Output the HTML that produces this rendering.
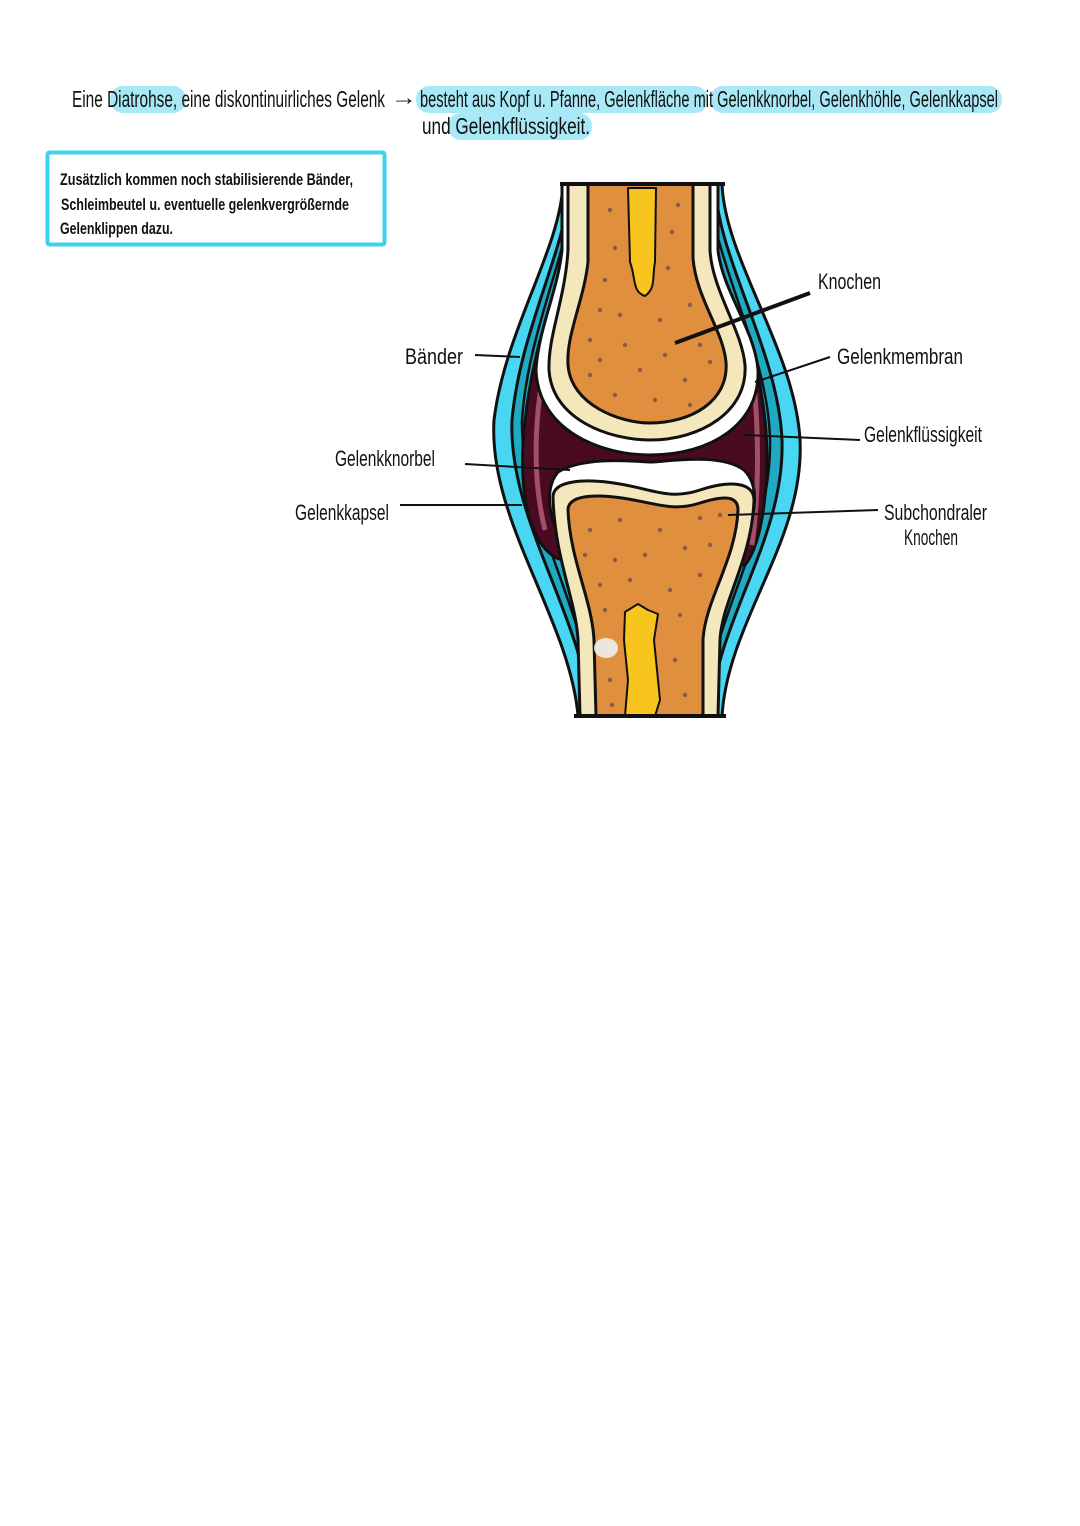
<!DOCTYPE html>
<html><head><meta charset="utf-8"><style>
html,body{margin:0;padding:0;background:#fff;}
svg{display:block}
text{font-family:"Liberation Sans Narrow","Liberation Sans",sans-serif;fill:#111}
</style></head><body>
<svg width="1080" height="1526" viewBox="0 0 1080 1526" xmlns="http://www.w3.org/2000/svg">
<g fill="#a9e9f7">
<rect x="110" y="86" width="76" height="27" rx="13"/>
<rect x="416" y="86" width="292" height="27" rx="13"/>
<rect x="710" y="86" width="292" height="27" rx="13"/>
<rect x="448" y="113" width="144" height="27" rx="13"/>
</g>
<g font-size="23">
<text x="72" y="107" textLength="313" lengthAdjust="spacingAndGlyphs">Eine Diatrohse, eine diskontinuirliches Gelenk</text>
<text x="391" y="105" textLength="26" lengthAdjust="spacingAndGlyphs">→</text>
<text x="420" y="107" textLength="578" lengthAdjust="spacingAndGlyphs">besteht aus Kopf u. Pfanne, Gelenkfläche mit Gelenkknorbel, Gelenkhöhle, Gelenkkapsel</text>
<text x="422" y="134" textLength="168" lengthAdjust="spacingAndGlyphs">und Gelenkflüssigkeit.</text>
</g>
<rect x="47.5" y="152.5" width="337" height="92" fill="none" stroke="#3fd2ee" stroke-width="4" rx="2"/>
<g font-size="17" font-weight="600">
<text x="60" y="185" textLength="293" lengthAdjust="spacingAndGlyphs">Zusätzlich kommen noch stabilisierende Bänder,</text>
<text x="61" y="210" textLength="288" lengthAdjust="spacingAndGlyphs">Schleimbeutel u. eventuelle gelenkvergrößernde</text>
<text x="60" y="234" textLength="113" lengthAdjust="spacingAndGlyphs">Gelenklippen dazu.</text>
</g>
<g stroke="#111" stroke-width="3" stroke-linejoin="round">
<path d="M563,184 C560,250 505,330 494,420 C488,520 570,620 578,716 L722,716 C728,620 805,540 800,440 C795,350 725,260 722,184 Z" fill="#48d6f2"/>
<path d="M570,184 C566,250 520,330 512,420 C508,520 585,620 590,716 L710,716 C716,620 785,540 782,440 C778,350 718,260 715,184 Z" fill="#1fa9c2"/>
<path d="M574,184 C570,250 528,330 522,420 C520,510 590,620 596,716 L704,716 C710,620 772,540 770,440 C768,350 712,260 709,184 Z" fill="none" stroke-width="2.5"/>
<path d="M540,340 C525,400 515,470 530,520 C540,550 555,560 565,560 L745,565 C765,540 770,470 765,420 C760,380 752,330 735,315 L560,320 Z" fill="#4a0a22"/>
<path d="M548,352 C536,400 530,470 545,530" fill="none" stroke="#a24f68" stroke-width="5"/>
<path d="M742,322 C758,370 762,470 752,545" fill="none" stroke="#a24f68" stroke-width="5"/>
<path d="M562,184 L562,250 C558,290 538,330 536,370 C538,430 600,455 650,455 C710,455 760,425 758,370 C755,330 722,290 718,250 L718,184 Z" fill="#fff"/>
<path d="M568,184 L568,250 C565,300 548,335 549,370 C552,420 610,440 650,440 C700,440 748,412 745,365 C742,330 712,290 710,250 L710,184 Z" fill="#f3e7bb"/>
<path d="M588,184 L588,262 C584,300 566,335 568,365 C571,405 620,423 650,423 C690,423 729,402 726,362 C723,330 696,298 693,258 L693,184 Z" fill="#e08f3e"/>
<path d="M628,188 L656,188 L655,262 C652,278 656,288 645,296 C632,292 636,278 630,262 Z" fill="#f8c51e" stroke-width="2"/>
<path d="M558,472 C585,455 640,462 650,462 C665,462 720,452 744,470 C762,488 754,520 742,545 L563,545 C550,520 543,490 558,472 Z" fill="#fff"/>
<path d="M553,498 C552,480 585,478 620,484 C655,490 670,500 700,490 C730,480 754,482 754,500 C752,560 722,600 720,640 L718,716 L580,716 L578,640 C576,600 555,560 553,498 Z" fill="#f3e7bb"/>
<path d="M568,510 C568,495 595,494 622,498 C656,503 672,512 700,503 C725,495 738,496 738,510 C736,560 705,600 703,640 L703,716 L596,716 L594,640 C592,600 570,560 568,510 Z" fill="#e08f3e"/>
<path d="M625,612 L638,604 L648,610 L658,614 L654,640 L660,700 L655,716 L625,716 L628,680 L624,640 Z" fill="#f8c51e" stroke-width="2"/>
<line x1="560" y1="184" x2="725" y2="184" stroke-width="4"/>
<line x1="574" y1="716" x2="726" y2="716" stroke-width="4"/>
</g>
<ellipse cx="606" cy="648" rx="12" ry="10" fill="#eee" opacity="0.9"/>
<g fill="#8a5a4a">
<circle cx="610" cy="210" r="2.2"/><circle cx="678" cy="205" r="2.2"/><circle cx="615" cy="248" r="2.2"/><circle cx="672" cy="232" r="2.2"/><circle cx="668" cy="268" r="2.2"/><circle cx="605" cy="280" r="2.2"/><circle cx="600" cy="310" r="2.2"/><circle cx="620" cy="315" r="2.2"/><circle cx="660" cy="320" r="2.2"/><circle cx="690" cy="305" r="2.2"/><circle cx="590" cy="340" r="2.2"/><circle cx="625" cy="345" r="2.2"/><circle cx="700" cy="345" r="2.2"/><circle cx="590" cy="375" r="2.2"/><circle cx="640" cy="370" r="2.2"/><circle cx="685" cy="380" r="2.2"/><circle cx="710" cy="362" r="2.2"/><circle cx="615" cy="395" r="2.2"/><circle cx="655" cy="400" r="2.2"/><circle cx="690" cy="405" r="2.2"/><circle cx="600" cy="360" r="2.2"/><circle cx="665" cy="355" r="2.2"/>
<circle cx="590" cy="530" r="2.2"/><circle cx="620" cy="520" r="2.2"/><circle cx="660" cy="530" r="2.2"/><circle cx="700" cy="518" r="2.2"/><circle cx="720" cy="515" r="2.2"/><circle cx="585" cy="555" r="2.2"/><circle cx="615" cy="560" r="2.2"/><circle cx="645" cy="555" r="2.2"/><circle cx="685" cy="548" r="2.2"/><circle cx="710" cy="545" r="2.2"/><circle cx="600" cy="585" r="2.2"/><circle cx="630" cy="580" r="2.2"/><circle cx="670" cy="590" r="2.2"/><circle cx="700" cy="575" r="2.2"/><circle cx="605" cy="610" r="2.2"/><circle cx="680" cy="615" r="2.2"/><circle cx="610" cy="680" r="2.2"/><circle cx="675" cy="660" r="2.2"/><circle cx="685" cy="695" r="2.2"/><circle cx="612" cy="705" r="2.2"/>
</g>
<g stroke="#111" stroke-width="2">
<line x1="675" y1="343" x2="810" y2="293" stroke-width="4"/>
<line x1="755" y1="382" x2="830" y2="357"/>
<line x1="745" y1="435" x2="860" y2="440"/>
<line x1="728" y1="515" x2="878" y2="510"/>
<line x1="475" y1="355" x2="520" y2="357"/>
<line x1="465" y1="464" x2="570" y2="470"/>
<line x1="400" y1="505" x2="522" y2="505"/>
</g>
<g font-size="22">
<text x="818" y="289" textLength="63" lengthAdjust="spacingAndGlyphs">Knochen</text>
<text x="837" y="364" textLength="126" lengthAdjust="spacingAndGlyphs">Gelenkmembran</text>
<text x="864" y="442" textLength="118" lengthAdjust="spacingAndGlyphs">Gelenkflüssigkeit</text>
<text x="884" y="520" textLength="103" lengthAdjust="spacingAndGlyphs">Subchondraler</text>
<text x="904" y="545" textLength="54" lengthAdjust="spacingAndGlyphs">Knochen</text>
<text x="405" y="364" textLength="58" lengthAdjust="spacingAndGlyphs">Bänder</text>
<text x="335" y="466" textLength="100" lengthAdjust="spacingAndGlyphs">Gelenkknorbel</text>
<text x="295" y="520" textLength="94" lengthAdjust="spacingAndGlyphs">Gelenkkapsel</text>
</g>
</svg>
</body></html>
